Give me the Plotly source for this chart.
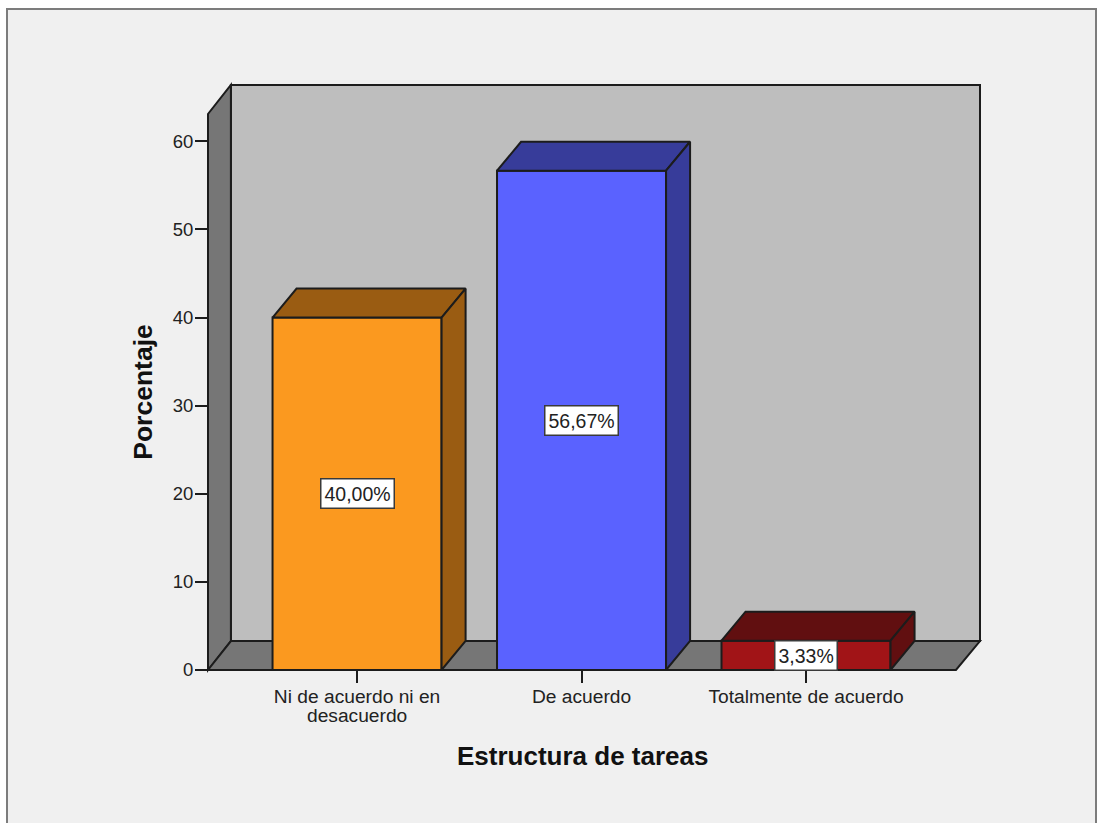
import plotly.graph_objects as go

# Chart data
categories = ["Ni de acuerdo ni en", "De acuerdo", "Totalmente de acuerdo"]
category_second_lines = ["desacuerdo", "", ""]
percentages = [40.00, 56.67, 3.33]
value_labels = ["40,00%", "56,67%", "3,33%"]
y_ticks = [0, 10, 20, 30, 40, 50, 60]

# Colours of each bar: front face, then the shaded top and side faces
front_colors = ["#fb991f", "#5a62ff", "#a11417"]
shade_colors = ["#9a5c12", "#373c9a", "#610f10"]

EDGE = "#1c1c1c"
TEXT = "#222222"
FONT = "Liberation Sans"

# Figure geometry
WIDTH, HEIGHT = 1097, 823
M_L, M_R, M_T, M_B = 208, 117, 85, 152.5
X_MIN, X_MAX = -0.664, 2.775
Y_MAX = 66.4
BAR_W = 0.753
DEPTH_X, DEPTH_Y = 0.107, 3.29  # oblique offset of the bars, in axis units
WALL_X = 0.102                  # horizontal depth of the left wall


def paper_x(v):
    return (v - X_MIN) / (X_MAX - X_MIN)


def paper_y(v):
    return v / Y_MAX


def polygon_path(points):
    coords = [f"{paper_x(x)},{paper_y(y)}" for x, y in points]
    return "M" + " L".join(coords) + " Z"


def px_x(px):
    return (px - M_L) / (WIDTH - M_L - M_R)


def px_y(px):
    return 1 - (px - M_T) / (HEIGHT - M_T - M_B)


shapes = [
    # Panel frame around the chart
    dict(type="rect", xref="paper", yref="paper", layer="below",
         x0=px_x(7), x1=px_x(1096), y0=px_y(835), y1=px_y(9),
         fillcolor="#f0f0f0", line=dict(color="#7c7c7c", width=2)),
]

# Back wall, left wall and floor of the 3D box
wall_back = [(X_MIN + WALL_X, DEPTH_Y), (X_MAX, DEPTH_Y), (X_MAX, Y_MAX), (X_MIN + WALL_X, Y_MAX)]
wall_left = [(X_MIN, 0), (X_MIN + WALL_X, DEPTH_Y), (X_MIN + WALL_X, Y_MAX), (X_MIN, Y_MAX - DEPTH_Y)]
floor = [(X_MIN, 0), (X_MIN + WALL_X, DEPTH_Y), (X_MAX, DEPTH_Y), (X_MAX - DEPTH_X, 0)]
for pts, color in [(wall_back, "#bebebe"), (wall_left, "#767676"), (floor, "#767676")]:
    shapes.append(dict(type="path", xref="paper", yref="paper", layer="below",
                       path=polygon_path(pts), fillcolor=color,
                       line=dict(color=EDGE, width=2)))

fig = go.Figure()

# Front faces of the bars
fig.add_trace(go.Bar(
    x=list(range(len(categories))), y=percentages, width=BAR_W,
    marker=dict(color=front_colors, line=dict(color=EDGE, width=2)),
    cliponaxis=False, showlegend=False, hoverinfo="skip",
))

# Top and side faces, offset from each bar's value
for i, value in enumerate(percentages):
    left, right = i - BAR_W / 2, i + BAR_W / 2
    top_x = [left, right, right + DEPTH_X, left + DEPTH_X, left]
    top_y = [value, value, value + DEPTH_Y, value + DEPTH_Y, value]
    side_x = [right, right + DEPTH_X, right + DEPTH_X, right, right]
    side_y = [0, DEPTH_Y, value + DEPTH_Y, value, 0]
    for xs, ys in [(top_x, top_y), (side_x, side_y)]:
        fig.add_trace(go.Scatter(
            x=xs, y=ys, mode="lines", fill="toself", fillcolor=shade_colors[i],
            line=dict(color=EDGE, width=2), cliponaxis=False,
            showlegend=False, hoverinfo="skip",
        ))

# Value labels centred on each bar
annotations = [
    dict(x=i, y=value / 2, text=label, showarrow=False, bgcolor="#ffffff",
         bordercolor="#3a3a3a", borderwidth=1.5, borderpad=3,
         font=dict(family=FONT, size=19.5, color=TEXT))
    for i, (value, label) in enumerate(zip(percentages, value_labels))
]

# Second line of long category labels, set tighter than a line break would
for i, line in enumerate(category_second_lines):
    if line:
        annotations.append(dict(
            x=i, xref="x", y=px_y(716), yref="paper", yanchor="middle",
            text=line, showarrow=False,
            font=dict(family=FONT, size=19.2, color=TEXT)))

# Axis titles
annotations.append(dict(
    x=px_x(582), y=px_y(757), xref="paper", yref="paper", yanchor="middle",
    text="<b>Estructura de tareas</b>", showarrow=False,
    font=dict(family=FONT, size=26, color="#111111")))
annotations.append(dict(
    x=px_x(143), y=px_y(392), xref="paper", yref="paper", yanchor="middle",
    xanchor="center", textangle=-90, text="<b>Porcentaje</b>", showarrow=False,
    font=dict(family=FONT, size=26.5, color="#111111")))

fig.update_layout(
    width=WIDTH, height=HEIGHT,
    margin=dict(l=M_L, r=M_R, t=M_T, b=M_B, autoexpand=False),
    paper_bgcolor="#ffffff", plot_bgcolor="rgba(0,0,0,0)",
    font=dict(family=FONT, color=TEXT),
    shapes=shapes, annotations=annotations, showlegend=False,
    xaxis=dict(
        range=[X_MIN, X_MAX], tickmode="array",
        tickvals=list(range(len(categories))), ticktext=categories,
        ticks="outside", ticklen=12, tickwidth=2, tickcolor=EDGE,
        ticklabelstandoff=-3,
        tickfont=dict(family=FONT, size=19.2, color=TEXT),
        showgrid=False, zeroline=False, showline=False,
    ),
    yaxis=dict(
        range=[0, Y_MAX], tickmode="array", tickvals=y_ticks,
        ticks="outside", ticklen=12, tickwidth=2, tickcolor=EDGE,
        ticklabelstandoff=-2,
        tickfont=dict(family=FONT, size=18.5, color=TEXT),
        showgrid=False, zeroline=False, showline=False,
    ),
)

fig.write_html("out.html")
